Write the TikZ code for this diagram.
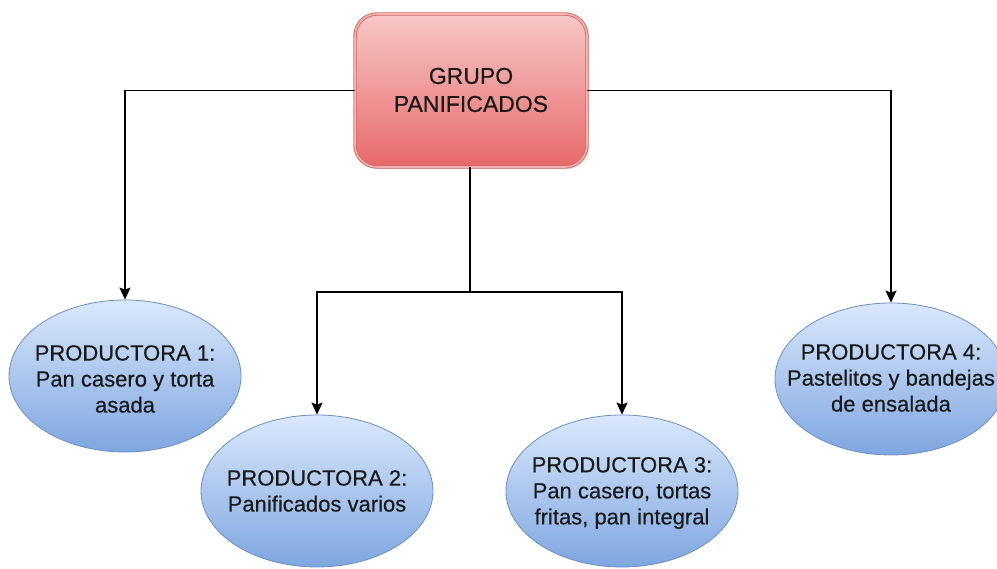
\documentclass[tikz,border=0pt]{standalone}
\usepackage{fontspec}
\setmainfont{Liberation Sans}[FakeBold=0.4]
\usetikzlibrary{arrows.meta,shapes.geometric,shadows}
\definecolor{txt}{HTML}{1A1A1A}
\definecolor{redtop}{HTML}{F7C8C7}
\definecolor{redbot}{HTML}{E8696A}
\definecolor{redline}{HTML}{CF6965}
\definecolor{redinner}{HTML}{F3B2B0}
\definecolor{bluetop}{HTML}{DAE8FC}
\definecolor{bluebot}{HTML}{7EA6E0}
\definecolor{blueline}{HTML}{6C8EBF}
\tikzset{
  grupo/.style={rectangle, rounded corners=22pt, minimum width=232pt, minimum height=153pt,
    top color=redtop, bottom color=redbot, draw=redline, line width=0.9pt,
    double=redinner, double distance=1.6pt,
    drop shadow={shadow xshift=2pt, shadow yshift=-2pt, opacity=0.25}, inner sep=0pt},
  prod/.style={ellipse, inner sep=0pt, minimum width=232pt, minimum height=152pt,
    top color=bluetop, bottom color=bluebot, draw=blueline, line width=0.8pt},
  ptext/.style={text=txt, align=center, inner sep=0pt, font=\fontsize{22}{26}\selectfont},
  gtext/.style={text=txt, align=center, inner sep=0pt, font=\fontsize{23}{28}\selectfont},
  conn/.style={draw=black, line width=1.4pt, -{Stealth[length=12pt,width=11pt,inset=2pt]}},
  plain/.style={draw=black, line width=1.4pt}
}
\begin{document}
\begin{tikzpicture}[x=1pt,y=1pt]
\clip (0,0) rectangle (997,569);
\fill[white] (0,0) rectangle (997,569);
% top box
\node[grupo] (box) at (471,478.5) {};
\node[gtext] (gt) at (471,479) {GRUPO\\PANIFICADOS};
% ellipses
\node[prod] (e1) at (125,193) {};
\node[ptext] (t1) at (125,190) {PRODUCTORA 1:\\Pan casero y torta\\asada};
\node[prod] (e2) at (317,78) {};
\node[ptext] (t2) at (317,78) {PRODUCTORA 2:\\Panificados varios};
\node[prod] (e3) at (622,78) {};
\node[ptext] (t3) at (622,76) {PRODUCTORA 3:\\Pan casero, tortas\\fritas, pan integral};
\node[prod] (e4) at (891,190) {};
\node[ptext] (t4) at (891,191) {PRODUCTORA 4:\\Pastelitos y bandejas\\de ensalada};
% connectors
\coordinate (split) at (470,277);
\draw[conn] (box.west) -| (e1.north);
\draw[conn] (box.east) -| (e4.north);
\draw[plain] (box.south -| split) -- (split);
\draw[conn] (split) -| (e2.north);
\draw[conn] (split) -| (e3.north);
\end{tikzpicture}
\end{document}
